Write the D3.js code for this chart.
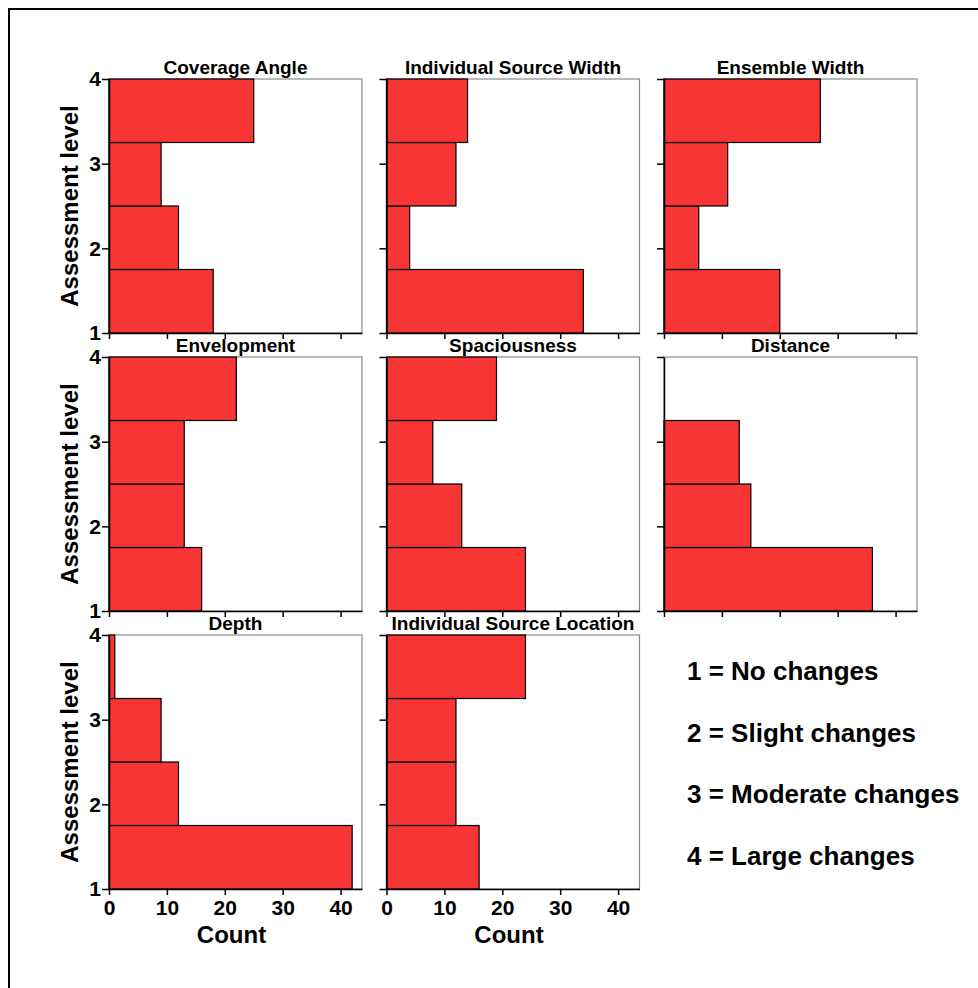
<!DOCTYPE html>
<html>
<head>
    <meta charset="utf-8">
    <script src="https://cdnjs.cloudflare.com/ajax/libs/d3/7.8.5/d3.min.js"></script>
    <style>
        body { margin: 0; background: #fff; }
        text { font-family: "Liberation Sans", Arial, sans-serif; }
        .tick text { font-size: 21px; font-weight: bold; }
    </style>
</head>
<body>
    <div id="graph"></div>
    <script>

        // panel titles, in reading order (3 per row)
        var panelTitles = ["Coverage Angle", "Individual Source Width", "Ensemble Width",
            "Envelopment", "Spaciousness", "Distance",
            "Depth", "Individual Source Location"];

        // counts per bin, from level 1 (bottom) up to level 4 (top)
        var coverageAngle = [18, 12, 9, 25];
        var individualSourceWidth = [34, 4, 12, 14];
        var ensembleWidth = [20, 6, 11, 27];
        var envelopment = [16, 13, 13, 22];
        var spaciousness = [24, 13, 8, 19];
        var distance = [36, 15, 13, 0];
        var depth = [42, 12, 9, 1];
        var individualSourceLocation = [16, 12, 12, 24];

        var panelCounts = [coverageAngle, individualSourceWidth, ensembleWidth,
            envelopment, spaciousness, distance, depth, individualSourceLocation];

        // bin edges on the assessment scale
        var binEdges = [1, 1.75, 2.5, 3.25, 4];

        var xTicks = [0, 10, 20, 30, 40];
        var yTicks = [1, 2, 3, 4];

        var legendLabels = ["1 = No changes", "2 = Slight changes", "3 = Moderate changes", "4 = Large changes"];

        // layout
        var W = 978, H = 988;
        var pw = 253, ph = 254;
        var left0 = 109, top0 = 79, colStep = 277.5, rowStep = 278;

        var svg = d3.select("#graph")
            .append("svg")
            .attr("width", W)
            .attr("height", H);

        svg.append("rect")
            .attr("width", W).attr("height", H)
            .attr("fill", "#fff");

        // outer frame (only top and left are visible, the rest is cut off)
        svg.append("rect")
            .attr("x", 9).attr("y", 9)
            .attr("width", 1200).attr("height", 1200)
            .attr("fill", "none")
            .attr("stroke", "#000")
            .attr("stroke-width", 2);

        var x = d3.scaleLinear().domain([0, 43.7]).range([0, pw]);
        var y = d3.scaleLinear().domain([1, 4]).range([ph, 0]);

        panelTitles.forEach(function (title, i) {
            var col = i % 3, row = Math.floor(i / 3);
            var g = svg.append("g")
                .attr("transform", "translate(" + (left0 + col * colStep) + "," + (top0 + row * rowStep) + ")");

            // plot frame
            g.append("rect")
                .attr("width", pw).attr("height", ph)
                .attr("fill", "#fff")
                .attr("stroke", "#8a8a8a")
                .attr("stroke-width", 1.2);

            var bins = panelCounts[i].map(function (c, k) {
                return { count: c, lo: binEdges[k], hi: binEdges[k + 1] };
            }).filter(function (d) { return d.count > 0; });

            g.selectAll("rect.bar")
                .data(bins)
                .enter()
                .append("rect")
                .attr("class", "bar")
                .attr("x", x(0))
                .attr("y", function (d) { return y(d.hi); })
                .attr("width", function (d) { return x(d.count) - x(0); })
                .attr("height", function (d) { return y(d.lo) - y(d.hi); })
                .attr("fill", "#f73535")
                .attr("stroke", "#000")
                .attr("stroke-width", 1.2);

            // y axis
            var ya = g.append("g")
                .call(d3.axisLeft(y).tickValues(yTicks).tickSize(7).tickSizeOuter(0).tickPadding(1)
                    .tickFormat(col === 0 ? d3.format("d") : function () { return ""; }))
                .attr("font-size", 21)
                .attr("font-weight", "bold")
                .attr("font-family", "Liberation Sans, Arial, sans-serif");
            ya.select(".domain").attr("stroke-width", 1.5);
            ya.selectAll(".tick line").attr("stroke-width", 1.5);

            // x axis
            var xa = g.append("g")
                .attr("transform", "translate(0," + ph + ")")
                .call(d3.axisBottom(x).tickValues(xTicks).tickSize(6).tickSizeOuter(0).tickPadding(5)
                    .tickFormat(row === 2 ? d3.format("d") : function () { return ""; }))
                .attr("font-size", 21)
                .attr("font-weight", "bold")
                .attr("font-family", "Liberation Sans, Arial, sans-serif");
            xa.select(".domain").attr("stroke-width", 1.5);
            xa.selectAll(".tick line").attr("stroke-width", 1.5);

            // title
            g.append("text")
                .attr("x", pw / 2)
                .attr("y", -5)
                .attr("text-anchor", "middle")
                .attr("font-size", "19px")
                .attr("font-weight", "bold")
                .attr("fill", "#000")
                .text(title);

            if (col === 0) {
                g.append("text")
                    .attr("transform", "translate(-31," + (ph / 2) + ") rotate(-90)")
                    .attr("text-anchor", "middle")
                    .attr("font-size", "24px")
                    .attr("font-weight", "bold")
                    .attr("fill", "#000")
                    .text("Assessment level");
            }

            if (row === 2) {
                g.append("text")
                    .attr("x", pw / 2 - 4)
                    .attr("y", ph + 54)
                    .attr("text-anchor", "middle")
                    .attr("font-size", "24px")
                    .attr("font-weight", "bold")
                    .attr("fill", "#000")
                    .text("Count");
            }
        });

        // legend of the assessment levels
        svg.selectAll("text.legend")
            .data(legendLabels)
            .enter()
            .append("text")
            .attr("class", "legend")
            .attr("x", 687)
            .attr("y", function (d, i) { return 680 + i * 61.5; })
            .attr("font-size", "26px")
            .attr("font-weight", "bold")
            .attr("fill", "#000")
            .text(function (d) { return d; });

    </script>
</body>
</html>
